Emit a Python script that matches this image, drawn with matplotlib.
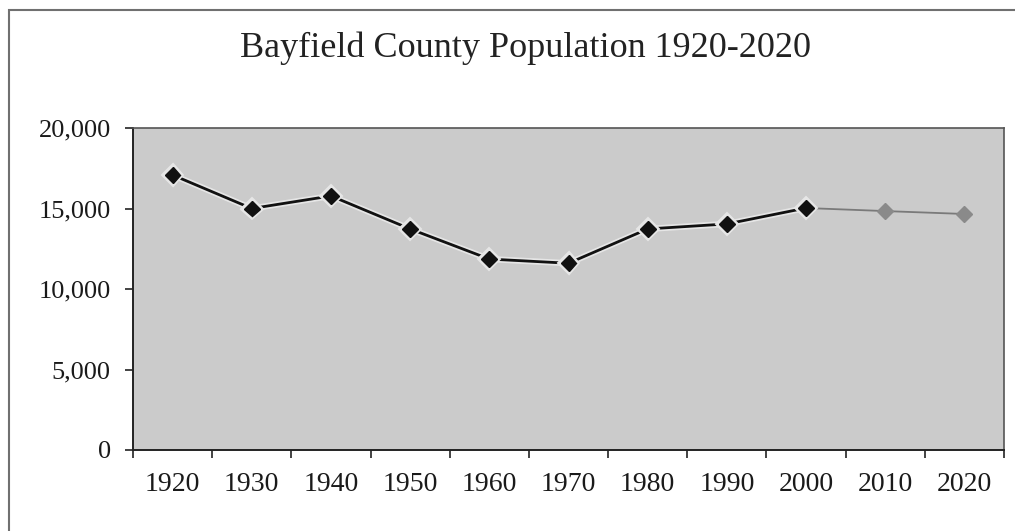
import matplotlib
matplotlib.use("Agg")
import matplotlib.pyplot as plt
import matplotlib.patheffects as pe
import numpy as np

years = ["1920", "1930", "1940", "1950", "1960", "1970", "1980", "1990", "2000", "2010", "2020"]
population = [17080, 15000, 15780, 13730, 11860, 11600, 13730, 14040, 15030, 14840, 14660]
n_dark = 9  # 1920-2000 drawn dark, 2010-2020 lighter

plt.rcParams['font.family'] = ['Liberation Serif', 'DejaVu Serif']

fig = plt.figure(figsize=(10.15, 5.31), dpi=100)
fig.patch.set_facecolor('white')

# outer frame
frame = plt.Rectangle((9/1015, -0.05), 1.2, 1 - 10/531 + 0.05, transform=fig.transFigure,
                      fill=False, edgecolor='#707070', linewidth=1.5)
fig.add_artist(frame)

ax = fig.add_axes([133/1015, 81/531, (1004-133)/1015, (450-128)/531])
ax.set_facecolor('#cbcbcb')

x = np.arange(len(years))
halo = [pe.Stroke(linewidth=4.5, foreground='#e6e6e6'), pe.Normal()]
ax.plot(x[n_dark-1:], population[n_dark-1:], color='#7a7a7a', linewidth=1.3,
        marker='D', markersize=8, markerfacecolor='#8a8a8a', markeredgecolor='#8a8a8a',
        zorder=3)
ax.plot(x[:n_dark], population[:n_dark], color='#111111', linewidth=2.0,
        marker='D', markersize=8, markerfacecolor='#111111', markeredgecolor='#111111',
        path_effects=halo, zorder=4)

ax.set_xlim(-0.5, len(years) - 0.5)
ax.set_ylim(0, 20000)
ax.set_yticks([0, 5000, 10000, 15000, 20000])
ax.set_yticklabels(['0', '5,000', '10,000', '15,000', '20,000'])
ax.set_xticks(x)
ax.set_xticklabels(years)
ax.set_xticks(np.arange(-0.5, len(years)), minor=True)
ax.tick_params(axis='x', which='major', length=0, pad=16, labelsize=20, labelcolor='#1a1a1a')
ax.tick_params(axis='x', which='minor', length=6, width=1.2, color='#222222', direction='out')
ax.tick_params(axis='y', which='major', length=6, width=1.2, color='#222222', pad=10,
               labelsize=19, labelcolor='#1a1a1a')

for side in ['left', 'bottom']:
    ax.spines[side].set_color('#222222')
    ax.spines[side].set_linewidth(1.4)
for side in ['top', 'right']:
    ax.spines[side].set_color('#555555')
    ax.spines[side].set_linewidth(1.2)

fig.text(525/1015, 1 - 48/531, 'Bayfield County Population 1920-2020',
         ha='center', va='center', fontsize=26, color='#222222')

fig.savefig('out.png', dpi=100)
